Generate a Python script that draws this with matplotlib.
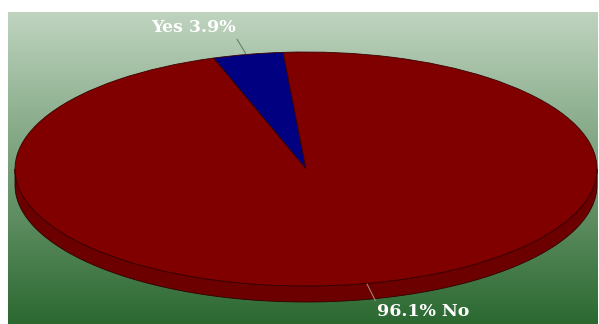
import numpy as np
import matplotlib.pyplot as plt
from matplotlib.patches import Polygon

# share of answers
labels = ["Yes", "No"]
values = [3.9, 96.1]
colors = ["#000080", "#800000"]

W, H = 599, 324
fig = plt.figure(figsize=(W / 100, H / 100), dpi=100)
fig.patch.set_facecolor("white")

# green gradient panel behind the pie
bg = fig.add_axes([8 / W, 0, (598 - 8) / W, (H - 12) / H])
grad = np.linspace(0, 1, 256)[:, None]
top = np.array([0.75, 0.83, 0.75])
bot = np.array([0.17, 0.41, 0.19])
img = top[None, None, :] * (1 - grad[:, :, None]) + bot[None, None, :] * grad[:, :, None]
bg.imshow(img, aspect="auto", extent=[0, 1, 0, 1])
bg.set_axis_off()

# pie axes over the whole figure, units scaled so the circle becomes an ellipse
cx, cy, rx, ry = 306, 169, 291, 117
depth = 16 / ry
ax = fig.add_axes([0, 0, 1, 1])
ax.patch.set_alpha(0)

wedges, _ = ax.pie(values, colors=colors, startangle=94.5, counterclock=True,
                   wedgeprops=dict(edgecolor="#3a0000", linewidth=0.6))
for w in wedges:
    w.set_zorder(3)

# side wall of the disc (front half only)
t = np.linspace(np.pi, 2 * np.pi, 200)
upper = np.column_stack([np.cos(t), np.sin(t)])
lower = np.column_stack([np.cos(t[::-1]), np.sin(t[::-1]) - depth])
side = Polygon(np.vstack([upper, lower]), closed=True, facecolor="#6c0000",
               edgecolor="#300000", linewidth=0.6, zorder=2)
ax.add_patch(side)

ax.set_aspect("auto")
ax.set_xlim(-cx / rx, (W - cx) / rx)
ax.set_ylim((cy - H) / ry, cy / ry)
ax.set_axis_off()


def px(x, y):
    return ((x - cx) / rx, (cy - y) / ry)


lab_font = dict(family="DejaVu Serif", weight="bold", size=12.5, color="white")
ax.annotate(f"{labels[0]} {values[0]}%", xy=px(246, 54), xytext=px(193, 28),
            ha="center", va="center", zorder=5, **lab_font,
            arrowprops=dict(arrowstyle="-", color="#5a7a5a", lw=0.7,
                            shrinkA=0, shrinkB=0, relpos=(1.0, 0.0)))
ax.annotate(f"{values[1]}% {labels[1]}", xy=px(367, 284), xytext=px(423, 312),
            ha="center", va="center", zorder=5, **lab_font,
            arrowprops=dict(arrowstyle="-", color="#b09080", lw=0.7,
                            shrinkA=0, shrinkB=0, relpos=(0.0, 1.0)))

fig.savefig("out.png", dpi=100)
